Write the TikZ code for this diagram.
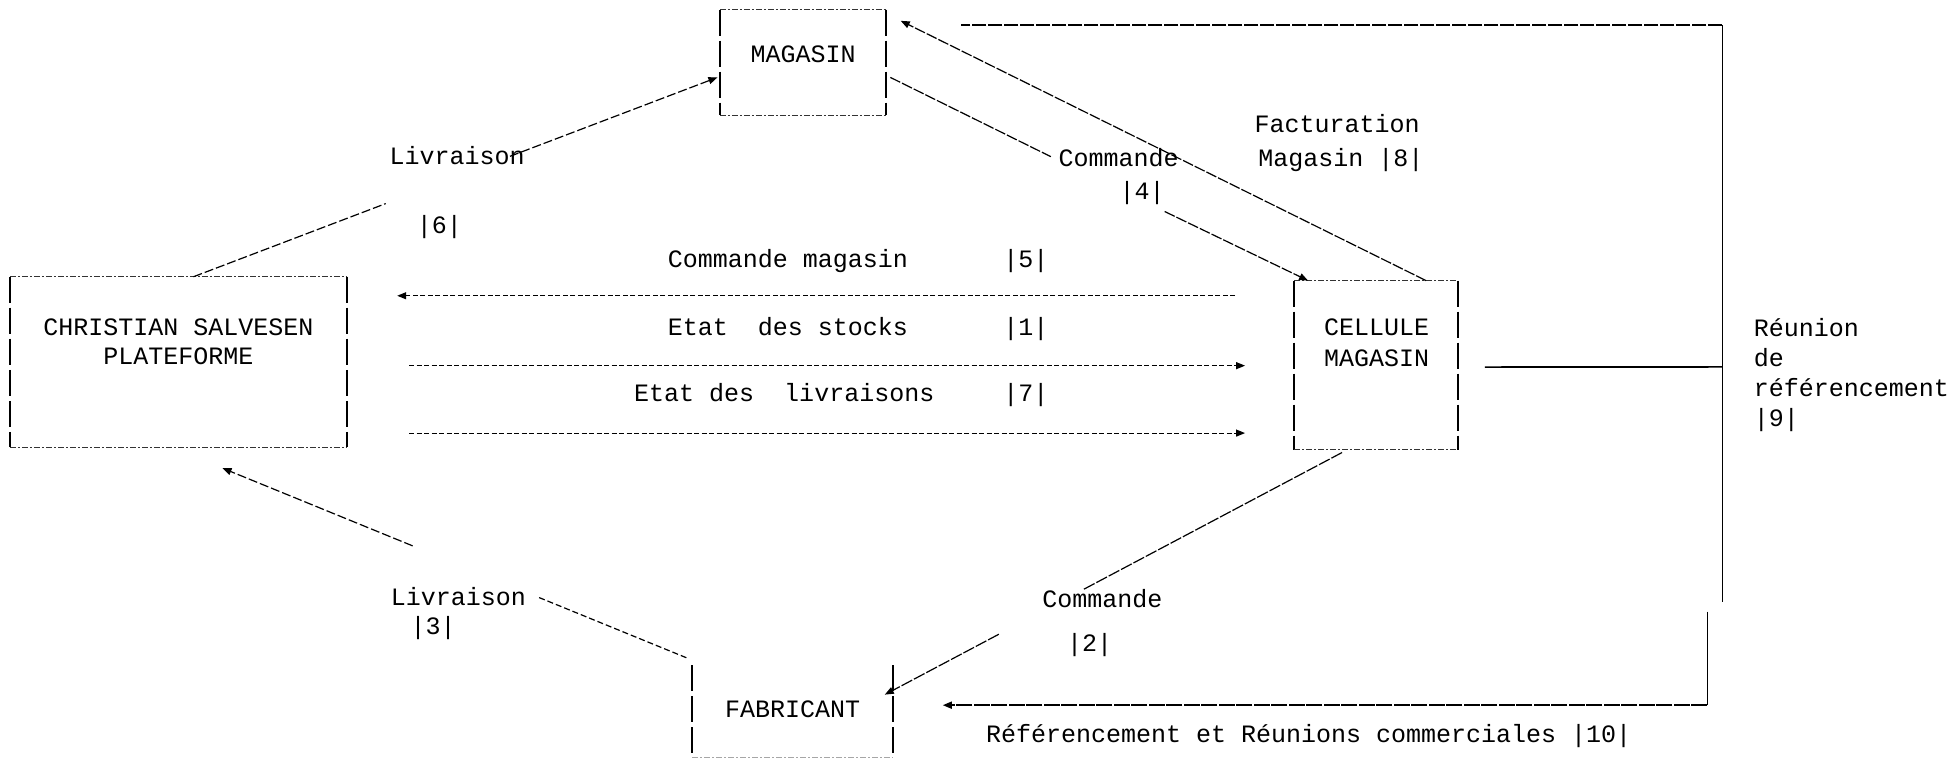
\documentclass[tikz,border=0pt]{standalone}
\usepackage{fontspec}
\setmainfont{Liberation Mono}
\usetikzlibrary{arrows.meta,calc}
\begin{document}
\begin{tikzpicture}[x=1.248pt,y=-1.248pt,
  font=\fontsize{25}{29}\selectfont,
  boxn/.style={draw=none,inner sep=0pt},
  txt/.style={inner sep=0pt,text height=0.7em,text depth=0.2em},
  lbl/.style={txt,anchor=west},
  vbar/.style={line width=2pt,dash pattern=on 26pt off 5pt},
  hbar/.style={line width=1.1pt,black!80,dash pattern=on 6pt off 2pt on 2pt off 2pt},
  conn/.style={line width=1.2pt,dash pattern=on 9pt off 3pt},
  hconn/.style={line width=1.1pt,dash pattern=on 5pt off 2.5pt},
  solidl/.style={line width=1.6pt},
  tip/.style={-{Triangle[length=9pt,width=7pt]}}
]
\useasboundingbox (0,0) rectangle (1568,608);

% boxes
\node[boxn,minimum width=337pt,minimum height=170pt] (plat) at (143,290) {};
\node[txt] at (143,267) {CHRISTIAN SALVESEN};
\node[txt] at (143,290) {PLATEFORME};
\node[boxn,minimum width=166pt,minimum height=105pt] (mag) at (643.5,50) {};
\node[txt] at (643.5,48) {MAGASIN};
\node[boxn,minimum width=163.5pt,minimum height=168.5pt] (cell) at (1102.5,292.5) {};
\node[txt] at (1103,267) {CELLULE};
\node[txt] at (1103,292) {MAGASIN};
\node[boxn,minimum width=200pt,minimum height=92pt] (fab) at (635,570) {};
\node[txt] at (635,573) {FABRICANT};

\foreach \n in {plat,mag,cell,fab}{
  \draw[vbar] (\n.north west) -- (\n.south west);
  \draw[vbar] (\n.north east) -- (\n.south east);
}
\foreach \n in {plat,mag,cell}{
  \draw[hbar] (\n.north west) -- (\n.north east);
  \draw[hbar] (\n.south west) -- (\n.south east);
}
\draw[hbar,black!35] (fab.south west) -- (fab.south east);

% Livraison 6 : plateforme -> magasin
\coordinate (p6) at ([xshift=15pt]plat.north);
\coordinate (m6) at ([xshift=-2.5pt,yshift=-15pt]mag.west);
\draw[conn] (p6) -- ($(p6)!0.367!(m6)$);
\draw[conn,tip] ($(p6)!0.604!(m6)$) -- (m6);

% Commande 4 : magasin -> cellule
\coordinate (m4) at ([yshift=-15pt]mag.east);
\coordinate (c4) at ([xshift=14pt]cell.north west);
\draw[conn,dash pattern=on 11pt off 2pt] ([xshift=4pt]m4) -- ($(m4)!0.39!(c4)$);
\draw[conn,dash pattern=on 11pt off 2pt,tip] ($(m4)!0.66!(c4)$) -- (c4);

% Facturation 8 : cellule -> magasin
\coordinate (c8) at ([xshift=50pt]cell.north);
\coordinate (m8) at ([yshift=-4pt]mag.north east);
\draw[conn,dash pattern=on 11pt off 2pt,tip,shorten >=16pt] (c8) -- (m8);

% horizontal flows
\coordinate (c5) at ([yshift=69.3pt]cell.west);
\coordinate (c1) at ([yshift=-0.6pt]cell.west);
\coordinate (c7) at ([yshift=-68pt]cell.west);
\draw[hconn,tip,shorten <=59pt,shorten >=50pt] (c5) -- (c5 -| plat.east);
\draw[hconn,tip,shorten <=62pt,shorten >=49pt] (c1 -| plat.east) -- (c1);
\draw[hconn,tip,shorten <=62pt,shorten >=49pt] (c7 -| plat.east) -- (c7);

% Commande 2 : cellule -> fabricant
\coordinate (c2) at ([xshift=-34pt,yshift=-3pt]cell.south);
\coordinate (f2) at ([yshift=21pt]fab.east);
\draw[conn,dash pattern=on 12pt off 2pt] (c2) -- ($(c2)!0.575!(f2)$);
\draw[conn,dash pattern=on 12pt off 2pt,tip,shorten >=-9pt] ($(c2)!0.764!(f2)$) -- (f2);

% Livraison 3 : fabricant -> plateforme
\coordinate (f3) at ([xshift=-6pt,yshift=7.5pt]fab.north west);
\coordinate (p3) at ([xshift=44pt,yshift=-21pt]plat.south);
\draw[conn,dash pattern=on 6pt off 3pt] (f3) -- ($(f3)!0.32!(p3)$);
\draw[conn,tip] ($(f3)!0.59!(p3)$) -- (p3);

% Reunion de referencement 9 / Referencement 10
\coordinate (rt) at (1380,20);
\coordinate (rj) at (1380,294);
\coordinate (rb1) at (1380,482);
\coordinate (rb2) at (1368,490);
\coordinate (rb) at (1368,565);
\draw[solidl,shorten <=27pt] ([yshift=-2pt]cell.east) -- (rj);
\draw[solidl] (rt) -- (rb1);
\draw[solidl] (rb2) -- (rb);
\draw[conn,dash pattern=on 14pt off 2pt,shorten >=75pt] (rt) -- (rt -| mag.east);
\draw[conn,line width=1.6pt,dash pattern=on 16pt off 1.5pt,tip,shorten >=50pt] (rb) -- (rb -| fab.east);

% labels
\node[lbl] at (312,130) {Livraison};
\node[txt] at (352,185) {|6|};
\node[lbl] at (848,131) {Commande};
\node[txt] at (915,158) {|4|};
\node[lbl] at (1005,104) {Facturation};
\node[lbl] at (1008,131) {Magasin |8|};
\node[lbl] at (535,212) {Commande magasin};
\node[txt] at (822,212) {|5|};
\node[lbl] at (535,267) {Etat~ des stocks};
\node[txt] at (822,267) {|1|};
\node[lbl] at (508,320) {Etat des~ livraisons};
\node[txt] at (822,320) {|7|};
\node[lbl] at (1405,268) {Réunion};
\node[lbl] at (1405,292) {de};
\node[lbl] at (1405,316) {référencement};
\node[lbl] at (1405,340) {|9|};
\node[lbl] at (313,483) {Livraison};
\node[txt] at (347,506) {|3|};
\node[lbl] at (835,485) {Commande};
\node[txt] at (873,520) {|2|};
\node[lbl] at (790,593) {Référencement et Réunions commerciales |10|};
\end{tikzpicture}
\end{document}
